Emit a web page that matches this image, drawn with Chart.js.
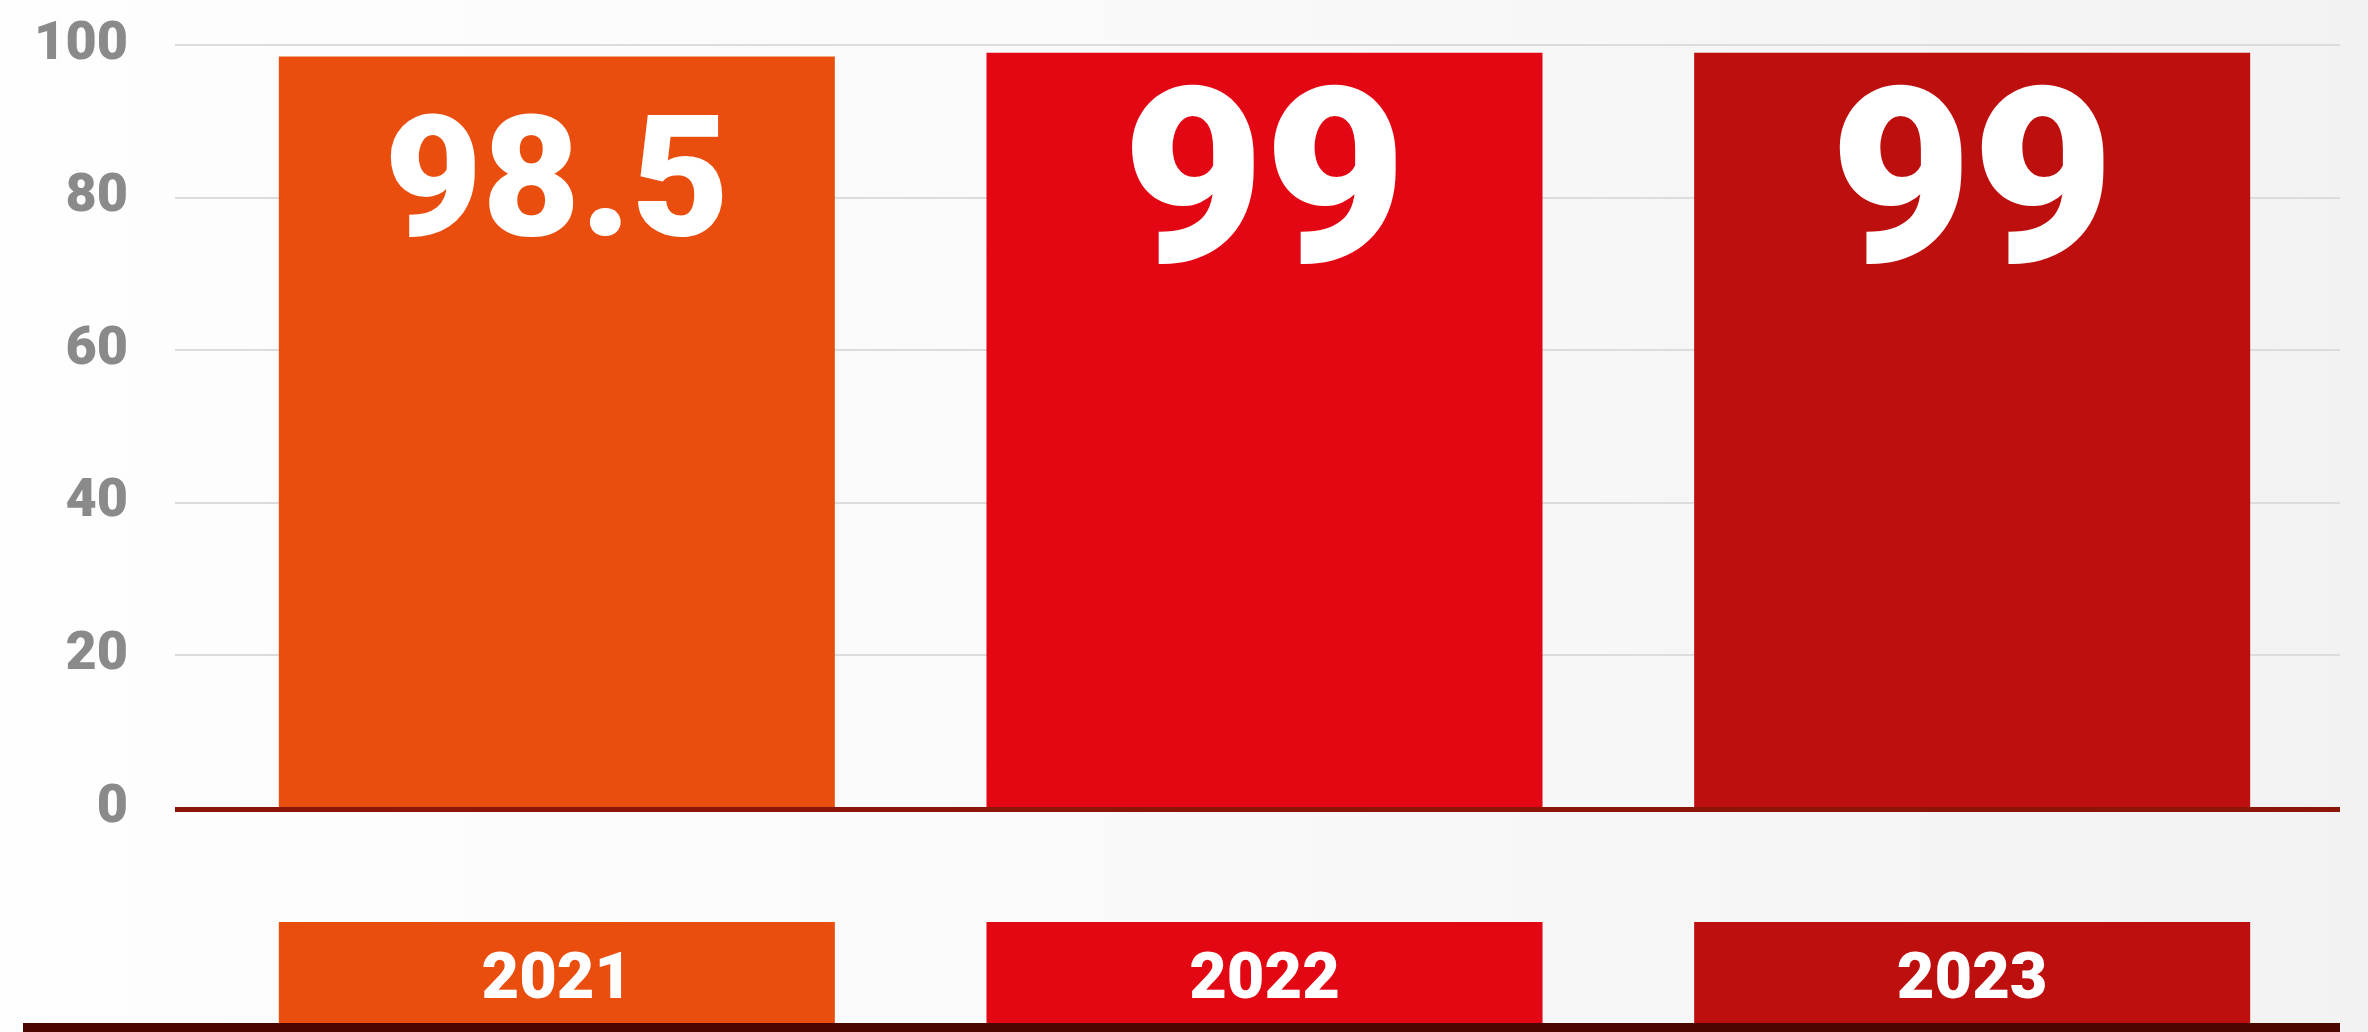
<!DOCTYPE html>
<html>
<head>
<meta charset="utf-8">
<script src="https://cdn.jsdelivr.net/npm/chart.js@4.4.1/dist/chart.umd.min.js"></script>
<style>
  html, body { margin: 0; padding: 0; }
  body {
    width: 2368px; height: 1032px; overflow: hidden;
    background: linear-gradient(90deg, #fefefe 0%, #fafafa 45%, #f2f2f2 100%);
  }
  #wrap { position: relative; width: 2368px; height: 1032px; }
</style>
</head>
<body>
<div id="wrap"><canvas id="c"></canvas></div>
<script>
const categories = ['2021', '2022', '2023'];
const values = [98.5, 99, 99];
const valueLabels = ['98.5', '99', '99'];
const barColors = ['#E94E0F', '#E30613', '#BE0F0F'];
const yTicks = [0, 20, 40, 60, 80, 100];

const FONT = 'Roboto, "Liberation Sans", sans-serif';

const decorPlugin = {
  id: 'decor',
  beforeDatasetsDraw(chart) {
    const { ctx } = chart;
    const y = chart.scales.y;
    ctx.save();
    ctx.strokeStyle = '#dcdcdc';
    ctx.lineWidth = 2;
    y.ticks.forEach(t => {
      if (t.value === 0) return;
      const py = Math.round(y.getPixelForValue(t.value));
      ctx.beginPath();
      ctx.moveTo(175, py);
      ctx.lineTo(2340, py);
      ctx.stroke();
    });
    ctx.restore();
  },
  afterDatasetsDraw(chart) {
    const { ctx, chartArea } = chart;
    const y = chart.scales.y;
    const meta = chart.getDatasetMeta(0);
    ctx.save();
    // zero baseline
    const y0 = y.getPixelForValue(0);
    ctx.fillStyle = '#8A1508';
    ctx.fillRect(175, y0 - 1, 2340 - 175, 5);

    meta.data.forEach((bar, i) => {
      const w = bar.width;
      const left = bar.x - w / 2;
      // value label
      const txt = valueLabels[i];
      const size = txt.length > 2 ? 169 : 245;
      ctx.fillStyle = '#ffffff';
      ctx.font = `900 ${size}px ${FONT}`;
      ctx.textAlign = 'center';
      ctx.textBaseline = 'alphabetic';
      ctx.fillText(txt, bar.x, chartArea.top + 128 + 0.365 * size);

      // category box below
      ctx.fillStyle = barColors[i];
      ctx.fillRect(left, 922, w, 1023 - 922);
      ctx.fillStyle = '#ffffff';
      ctx.font = `900 65px ${FONT}`;
      ctx.fillText(categories[i], bar.x, 998);
    });

    // bottom strip
    ctx.fillStyle = '#4D0500';
    ctx.fillRect(23, 1023, 2340 - 23, 9);
    ctx.restore();
  }
};

new Chart(document.getElementById('c'), {
  type: 'bar',
  data: {
    labels: categories,
    datasets: [{
      data: values,
      backgroundColor: barColors,
      borderWidth: 0,
      barPercentage: 0.7857,
      categoryPercentage: 1.0
    }]
  },
  options: {
    responsive: true,
    maintainAspectRatio: false,
    animation: false,
    devicePixelRatio: 1,
    layout: { padding: { left: 0, right: 42, top: 45, bottom: 224 } },
    plugins: { legend: { display: false }, tooltip: { enabled: false } },
    scales: {
      x: { display: false, offset: true },
      y: {
        min: 0, max: 100,
        afterBuildTicks(scale) { scale.ticks = yTicks.map(v => ({ value: v })); },
        afterFit(scale) {
          scale.width = 203;
          scale.paddingTop = 20;
          scale.paddingBottom = 20;
        },
        grid: { display: false, drawTicks: false },
        border: { display: false },
        ticks: {
          padding: 75,
          color: '#8a8a8a',
          font: { family: FONT, size: 54, weight: '900' }
        }
      }
    }
  },
  plugins: [decorPlugin]
});
</script>
</body>
</html>
